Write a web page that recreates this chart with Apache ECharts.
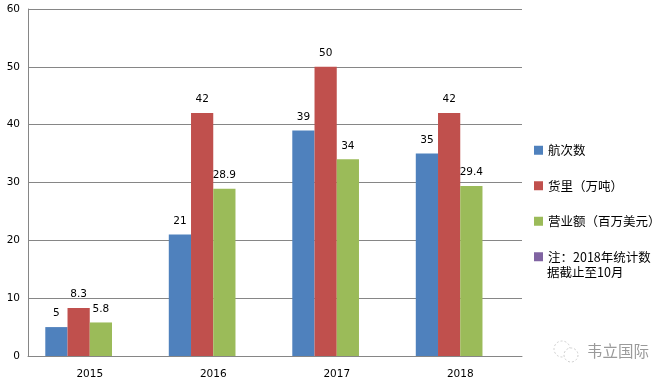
<!DOCTYPE html>
<html>
<head>
<meta charset="utf-8">
<style>
  html, body { margin: 0; padding: 0; background: #fff; }
  #chart { width: 671px; height: 381px; }
</style>
<script src="https://cdn.jsdelivr.net/npm/echarts@6/dist/echarts.min.js"></script>
</head>
<body>
<div id="chart"></div>
<script>
const years = ['2015', '2016', '2017', '2018']
const voyages = [5, 21, 39, 35]
const cargo = [8.3, 42, 50, 42]
const revenue = [5.8, 28.9, 34, 29.4]
// 第四个系列只是图例里的备注，没有数据，但占柱位
const note = [null, null, null, null]

const font = '"Noto Sans CJK SC", sans-serif'
const numFont = '"DejaVu Sans", sans-serif'

const barSeries = (name, data, color) => ({
  name,
  type: 'bar',
  data,
  barGap: 0,
  barCategoryGap: '28%',
  itemStyle: { color },
  label: {
    show: data.some((v) => v != null),
    position: 'top',
    distance: 8,
    color: '#000',
    fontFamily: numFont,
    fontSize: 10.5
  }
})

const chart = echarts.init(document.getElementById('chart'), null, { renderer: 'canvas' })
chart.setOption({
  backgroundColor: '#fff',
  animation: false,
  grid: { left: 28, top: 9, width: 494, height: 347 },
  legend: {
    orient: 'vertical',
    left: 534,
    top: 144,
    padding: 0,
    itemWidth: 9,
    itemHeight: 9,
    itemGap: 23,
    icon: 'rect',
    textStyle: { fontFamily: font, fontSize: 12.5, color: '#000' }
  },
  xAxis: {
    type: 'category',
    data: years,
    axisTick: { show: false },
    axisLine: { lineStyle: { color: '#868686', width: 1 } },
    axisLabel: { color: '#000', fontFamily: numFont, fontSize: 10.5, margin: 13 }
  },
  yAxis: {
    type: 'value',
    min: 0,
    max: 60,
    interval: 10,
    axisLine: { show: true, lineStyle: { color: '#868686', width: 1 } },
    axisTick: { show: false },
    splitLine: { lineStyle: { color: '#868686', width: 1 } },
    axisLabel: { color: '#000', fontFamily: numFont, fontSize: 10.5, margin: 8 }
  },
  series: [
    barSeries('航次数', voyages, '#4f81bd'),
    barSeries('货里（万吨）', cargo, '#c0504d'),
    barSeries('营业额（百万美元）', revenue, '#9bbb59'),
    barSeries('注：2018年统计数', note, '#8064a2')
  ],
  graphic: [
    // 备注第二行，图例色块只对齐第一行
    { type: 'text', style: { x: 547, y: 272, text: '据截止至10月', fill: '#000', font: '12.5px ' + font, textVerticalAlign: 'middle' } },
    // 右下角水印
    { type: 'circle', shape: { cx: 562, cy: 349, r: 8 }, style: { fill: 'none', stroke: '#cfcfcf', lineWidth: 1, lineDash: [2, 2] } },
    { type: 'circle', shape: { cx: 571, cy: 355, r: 7 }, style: { fill: '#fff', stroke: '#cfcfcf', lineWidth: 1, lineDash: [2, 2] } },
    { type: 'text', style: { x: 587, y: 351, text: '韦立国际', fill: '#9a9a9a', font: '15.5px ' + font, textVerticalAlign: 'middle' } }
  ]
})
</script>
</body>
</html>
